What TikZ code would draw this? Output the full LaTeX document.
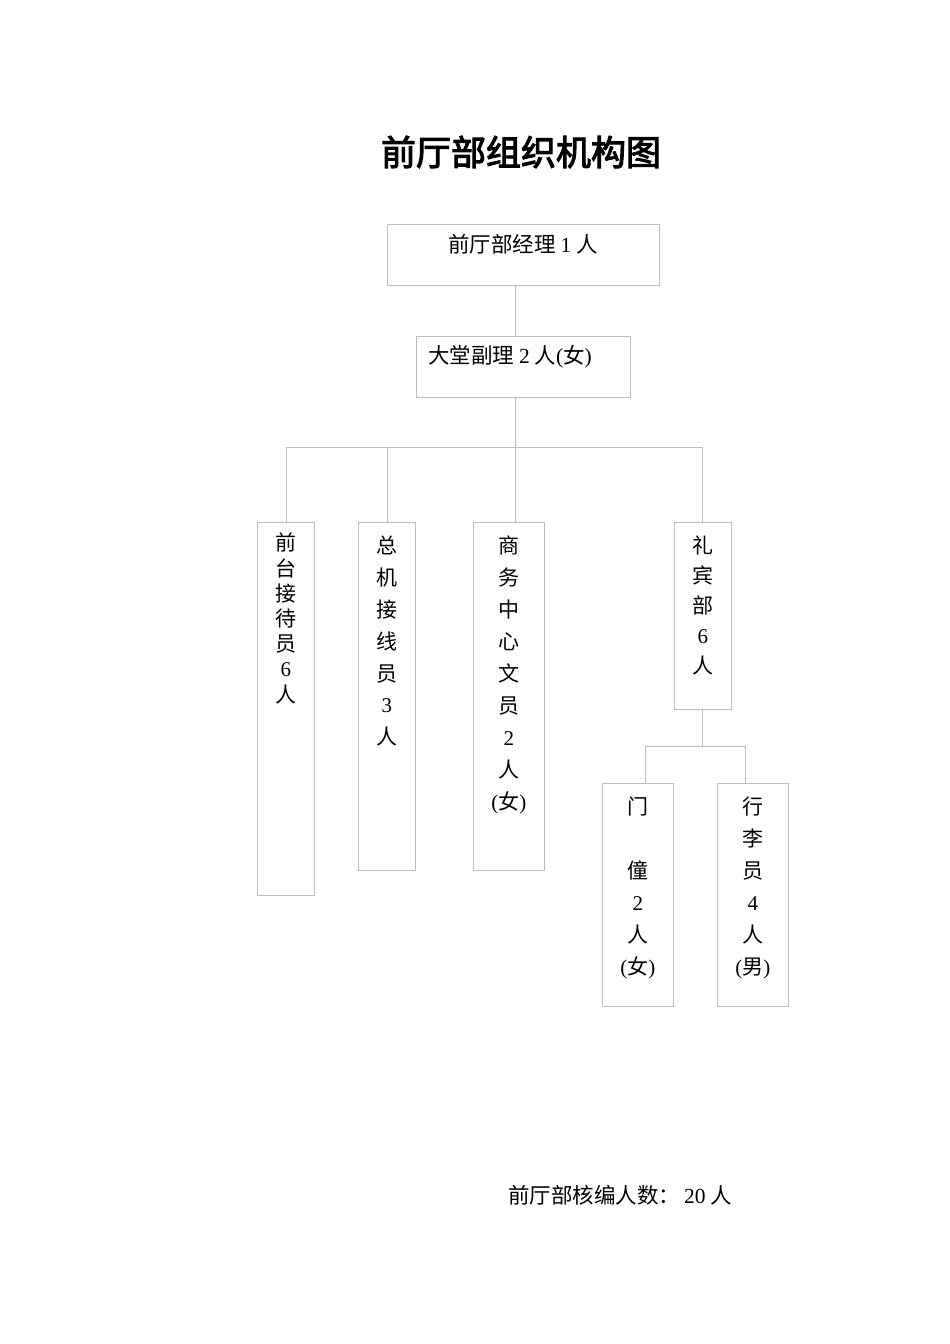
\documentclass[tikz,border=0pt]{standalone}
\usepackage{fontspec}
\setmainfont{Liberation Serif}
\newfontfamily\cjk{Noto Sans CJK SC}
\newfontfamily\cjktitle[FakeBold=3]{Noto Sans CJK SC}
\usepackage{tikz}
\usetikzlibrary{positioning,calc}
\definecolor{linegray}{RGB}{190,190,190}
\newcommand{\lat}[1]{{\rmfamily #1}}
\tikzset{
    box/.style={
        draw=linegray,
        line width=0.9pt,
        inner sep=0pt,
        anchor=north west
    },
    link/.style={
        draw=linegray,
        line width=0.9pt
    }
}

\begin{document}
\begin{tikzpicture}[x=1pt,y=-1pt]
  % Define styles for the text columns
  \tikzset{
    col/.style={
      anchor=north,
      align=center,
      inner sep=0pt,
      font=\fontsize{21}{#1}\selectfont\cjk
    },
    line/.style={
      inner sep=0pt,
      font=\fontsize{21.5}{24}\selectfont\cjk
    }
  }
  \useasboundingbox[fill=white] (0,0) rectangle (950,1344);

  % Title
  \node[inner sep=0pt, font=\fontsize{35}{40}\selectfont\cjktitle] (title) at (521,152) {前厅部组织机构图};

  % Boxes
  \node[box, minimum width=272pt, minimum height=61pt] (mgr) at (387,224) {};
  \node[box, minimum width=214pt, minimum height=61pt] (asst) at (416,336) {};
  \node[box, minimum width=57pt, minimum height=373pt] (front) at (257,522) {};
  \node[box, minimum width=57pt, minimum height=348pt] (switch) at (358,522) {};
  \node[box, minimum width=71pt, minimum height=348pt] (biz) at (473,522) {};
  \node[box, minimum width=57pt, minimum height=187pt] (concierge) at (674,522) {};
  \node[box, minimum width=71pt, minimum height=223pt] (door) at (602,783) {};
  \node[box, minimum width=71pt, minimum height=223pt] (bell) at (717,783) {};

  % Texts in the boxes
  \node[line] (mgrT) at (523,244) {前厅部经理 \lat{1} 人};
  \node[line, anchor=west] (asstT) at (428,357) {大堂副理 \lat{2} 人\lat{(}女\lat{)}};
  \node[col=25.2] (frontT) at ([yshift=-11pt]front.north) {前\\台\\接\\待\\员\\\lat{6}\\人};
  \node[col=31.8] (switchT) at ([yshift=-14pt]switch.north) {总\\机\\接\\线\\员\\\lat{3}\\人};
  \node[col=31.9] (bizT) at ([yshift=-14pt]biz.north) {商\\务\\中\\心\\文\\员\\\lat{2}\\人\\\lat{(}女\lat{)}};
  \node[col=30] (conciergeT) at ([yshift=-14pt]concierge.north) {礼\\宾\\部\\\lat{6}\\人};
  \node[col=32] (doorT) at ([yshift=-14pt]door.north) {门\\\strut\\僮\\\lat{2}\\人\\\lat{(}女\lat{)}};
  \node[col=32] (bellT) at ([yshift=-14pt]bell.north) {行\\李\\员\\\lat{4}\\人\\\lat{(}男\lat{)}};

  % Joints of the connectors
  \coordinate (jTop) at (515,447);
  \coordinate (jLow) at (702,746);
  \coordinate (jDoor) at (645,746);
  \coordinate (jBell) at (745,746);

  % Connectors
  \draw[link] (mgr.south -| jTop) -- (asst.north -| jTop);
  \draw[link] (asst.south -| jTop) -- (jTop);
  \draw[link] (front.north) |- (jLow |- jTop) -- (jLow |- concierge.north);
  \draw[link] (switch.north) -- (switch.north |- jTop);
  \draw[link] (jTop) -- (jTop |- biz.north);
  \draw[link] (concierge.south -| jLow) -- (jLow);
  \draw[link] (jDoor |- door.north) -- (jDoor) -- (jBell) -- (jBell |- bell.north);

  % Footer
  \node[line, anchor=west] (total) at (508,1195) {前厅部核编人数：\hspace{4pt}\lat{20} 人};
\end{tikzpicture}
\end{document}
